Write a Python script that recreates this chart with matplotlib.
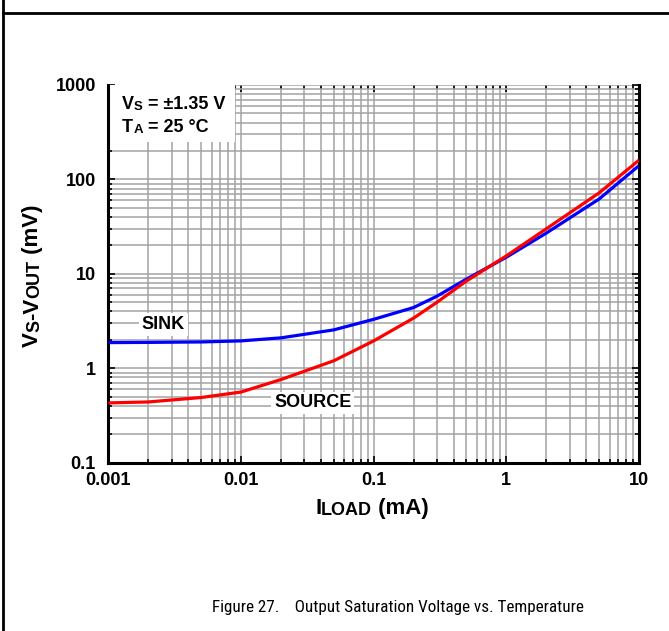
import matplotlib.pyplot as plt
from matplotlib import font_manager
from matplotlib.lines import Line2D
from matplotlib.patches import Rectangle
from matplotlib.ticker import LogLocator, FixedLocator, NullFormatter

# curve values
i_load = [0.001, 0.002, 0.005, 0.01, 0.02, 0.05, 0.1, 0.2, 0.3, 0.5, 1, 2, 5, 10]
sink = [1.87, 1.88, 1.9, 1.95, 2.1, 2.55, 3.3, 4.4, 5.8, 8.8, 15, 27, 62, 140]
source = [0.43, 0.44, 0.49, 0.56, 0.76, 1.2, 1.95, 3.4, 5.0, 8.4, 15.5, 30, 72, 160]

x_ticks = [0.001, 0.01, 0.1, 1, 10]
x_labels = ["0.001", "0.01", "0.1", "1", "10"]
y_ticks = [0.1, 1, 10, 100, 1000]
y_labels = ["0.1", "1", "10", "100", "1000"]

FONT = "Liberation Sans"
BIG = 16
SMALL = 13

# narrow face for the caption if one is installed
installed = {f.name for f in font_manager.fontManager.ttflist}
cap_font, cap_size = FONT, 11
for name in ["Liberation Sans Narrow", "Arial Narrow", "Roboto Condensed",
             "DejaVu Sans Condensed", "Open Sans Condensed"]:
    if name in installed:
        cap_font, cap_size = name, 12.3
        break


def chain(ax, parts, x, y, transform, rotation=0, weight="bold"):
    # draw pieces of text one after another, each with its own size
    prev = None
    for s, size in parts:
        if prev is None:
            if rotation:
                prev = ax.text(x, y, s, transform=transform, rotation=90,
                               ha="right", va="bottom", fontsize=size,
                               fontweight=weight, family=FONT, zorder=5)
            else:
                prev = ax.text(x, y, s, transform=transform, ha="left",
                               va="bottom", fontsize=size, fontweight=weight,
                               family=FONT, zorder=5)
        else:
            if rotation:
                prev = ax.annotate(s, xy=(1, 1), xycoords=prev, rotation=90,
                                   ha="right", va="bottom", fontsize=size,
                                   fontweight=weight, family=FONT,
                                   annotation_clip=False, zorder=5)
            else:
                prev = ax.annotate(s, xy=(1, 0), xycoords=prev, ha="left",
                                   va="bottom", fontsize=size,
                                   fontweight=weight, family=FONT,
                                   annotation_clip=False, zorder=5)
    return prev


fig = plt.figure(figsize=(6.69, 6.31), dpi=100)
ax = fig.add_axes([0.1619, 0.2667, 0.7933, 0.5986])

ax.plot(i_load, sink, color="#0000ff", lw=2.3, zorder=3, solid_capstyle="butt")
ax.plot(i_load, source, color="#ff0000", lw=2.3, zorder=3, solid_capstyle="butt")

ax.set_xscale("log")
ax.set_yscale("log")
ax.set_xlim(0.001, 10)
ax.set_ylim(0.1, 1000)

ax.xaxis.set_major_locator(FixedLocator(x_ticks))
ax.yaxis.set_major_locator(FixedLocator(y_ticks))
ax.set_xticklabels(x_labels)
ax.set_yticklabels(y_labels)
ax.xaxis.set_minor_locator(LogLocator(base=10, subs=range(2, 10), numticks=20))
ax.yaxis.set_minor_locator(LogLocator(base=10, subs=range(2, 10), numticks=20))
ax.xaxis.set_minor_formatter(NullFormatter())
ax.yaxis.set_minor_formatter(NullFormatter())

ax.grid(True, which="both", color="#a3a3a3", lw=1.1)
ax.set_axisbelow(True)

for lab in ax.get_xticklabels() + ax.get_yticklabels():
    lab.set_fontweight("bold")
    lab.set_fontsize(13)
    lab.set_family(FONT)

ax.tick_params(which="both", direction="in", color="black", width=1.2,
               left=True, right=True, bottom=True, top=True)
ax.tick_params(which="major", length=5)
ax.tick_params(which="minor", length=3)
ax.tick_params(axis="y", pad=9)
ax.tick_params(axis="x", pad=7)

ax.spines["top"].set_visible(False)
for side in ["left", "right", "bottom"]:
    ax.spines[side].set_linewidth(2.2)

# condition box
ax.add_patch(Rectangle((0.0, 0.849), 0.239, 0.151, transform=ax.transAxes,
                       facecolor="white", edgecolor="none", zorder=2))
chain(ax, [("V", 13), ("S", 9.5), (" = \u00b11.35 V", 13)], 0.026, 0.926,
      ax.transAxes)
chain(ax, [("T", 13), ("A", 9.5), (" = 25 \u00b0C", 13)], 0.026, 0.8655,
      ax.transAxes)

# curve labels
box = dict(facecolor="white", edgecolor="none", pad=2)
ax.text(0.0026, 2.9, "SINK", fontsize=13, fontweight="bold", family=FONT,
        ha="center", va="center", bbox=box, zorder=4)
ax.text(0.0347, 0.43, "SOURCE", fontsize=13, fontweight="bold", family=FONT,
        ha="center", va="center", bbox=box, zorder=4)

# axis labels
chain(ax, [("I", BIG), ("LOAD", SMALL), (" (mA)", BIG)], 0.471, 0.178,
      fig.transFigure)
chain(ax, [("V", BIG), ("S", SMALL), ("-V", BIG), ("OUT", SMALL),
           (" (mV)", BIG)], 0.0645, 0.45, fig.transFigure, rotation=90)

# caption
fig.text(0.317, 0.030, "Figure 27.    Output Saturation Voltage vs. Temperature",
         fontsize=cap_size, family=cap_font, ha="left", va="baseline")

# page frame
fig.add_artist(Line2D([0.0045, 1.0], [0.980, 0.980], transform=fig.transFigure,
                      color="black", lw=2))
fig.add_artist(Line2D([0.0045, 0.0045], [0.0, 1.0], transform=fig.transFigure,
                      color="black", lw=2))

fig.savefig("out.png", dpi=100)
